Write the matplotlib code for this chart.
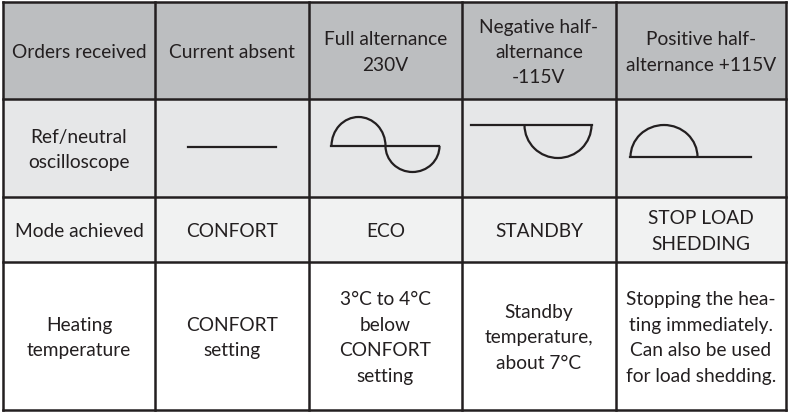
import matplotlib.pyplot as plt
from matplotlib.patches import Rectangle, Arc

# table content
headers = ["Orders received", "Current absent", "Full alternance\n230V",
           "Negative half-\nalternance\n-115V", "Positive half-\nalternance +115V"]
row_labels = ["Ref/neutral\noscilloscope", "Mode achieved", "Heating\ntemperature"]
waves = ["flat", "full", "neg", "pos"]
modes = ["CONFORT", "ECO", "STANDBY", "STOP LOAD\nSHEDDING"]
temps = ["CONFORT\nsetting", "3°C to 4°C\nbelow\nCONFORT\nsetting",
         "Standby\ntemperature,\nabout 7°C",
         "Stopping the hea-\nting immediately.\nCan also be used\nfor load shedding."]

# layout in pixels
col_edges = [3, 155, 309, 462, 616, 786]
row_edges = [3, 100, 198, 263, 411]
row_colors = ["#bcbec0", "#e6e7e8", "#f1f2f2", "#ffffff"]
line_col = "#231f20"

plt.rcParams['font.family'] = ['Lato', 'DejaVu Sans']

fig = plt.figure(figsize=(7.89, 4.14), dpi=100)
ax = fig.add_axes([0, 0, 1, 1])
ax.set_xlim(0, 789)
ax.set_ylim(414, 0)
ax.axis('off')

for r in range(4):
    y0, y1 = row_edges[r], row_edges[r + 1]
    ax.add_patch(Rectangle((col_edges[0], y0), col_edges[-1] - col_edges[0], y1 - y0,
                           facecolor=row_colors[r], edgecolor='none'))

for x in col_edges:
    ax.plot([x, x], [row_edges[0], row_edges[-1]], color=line_col, lw=1.8, solid_capstyle='projecting')
for y in row_edges:
    ax.plot([col_edges[0], col_edges[-1]], [y, y], color=line_col, lw=1.8, solid_capstyle='projecting')

def cx(c):
    return (col_edges[c] + col_edges[c + 1]) / 2

def cy(r):
    return (row_edges[r] + row_edges[r + 1]) / 2

fs = 13.8
ls = 1.6
tc = "#231f20"

def cell(x, y, t):
    ax.text(x, y + 1, t, ha='center', va='center', fontsize=fs, color=tc,
            linespacing=ls)

for c, t in enumerate(headers):
    cell(cx(c), cy(0), t)

for r, t in enumerate(row_labels):
    cell(cx(0), cy(r + 1), t)

for i, t in enumerate(modes):
    cell(cx(i + 1), cy(2), t)
for i, t in enumerate(temps):
    cell(cx(i + 1), cy(3), t)

# oscilloscope sketches
lw = 1.6
for i, w in enumerate(waves):
    x0, y0 = cx(i + 1), cy(1)
    if w == "flat":
        ax.plot([x0 - 44, x0 + 44], [y0 - 1, y0 - 1], color=line_col, lw=lw)
    elif w == "full":
        r = 27
        base = y0 - 2
        ax.add_patch(Arc((x0 - 27, base), 2 * r, 2 * 29, theta1=180, theta2=360, color=line_col, lw=lw))
        ax.add_patch(Arc((x0 + 27, base), 2 * r, 2 * 26, theta1=0, theta2=180, color=line_col, lw=lw))
        ax.plot([x0 - 54, x0 + 54], [base, base], color=line_col, lw=lw)
    elif w == "neg":
        base = y0 - 23
        ax.plot([x0 - 68, x0 + 53], [base, base], color=line_col, lw=lw)
        ax.add_patch(Arc((x0 + 19, base), 67, 66, theta1=0, theta2=180, color=line_col, lw=lw))
    elif w == "pos":
        base = y0 + 9
        ax.plot([x0 - 71, x0 + 50], [base, base], color=line_col, lw=lw)
        ax.add_patch(Arc((x0 - 37, base), 67, 64, theta1=180, theta2=360, color=line_col, lw=lw))

fig.savefig("out.png", dpi=100)
